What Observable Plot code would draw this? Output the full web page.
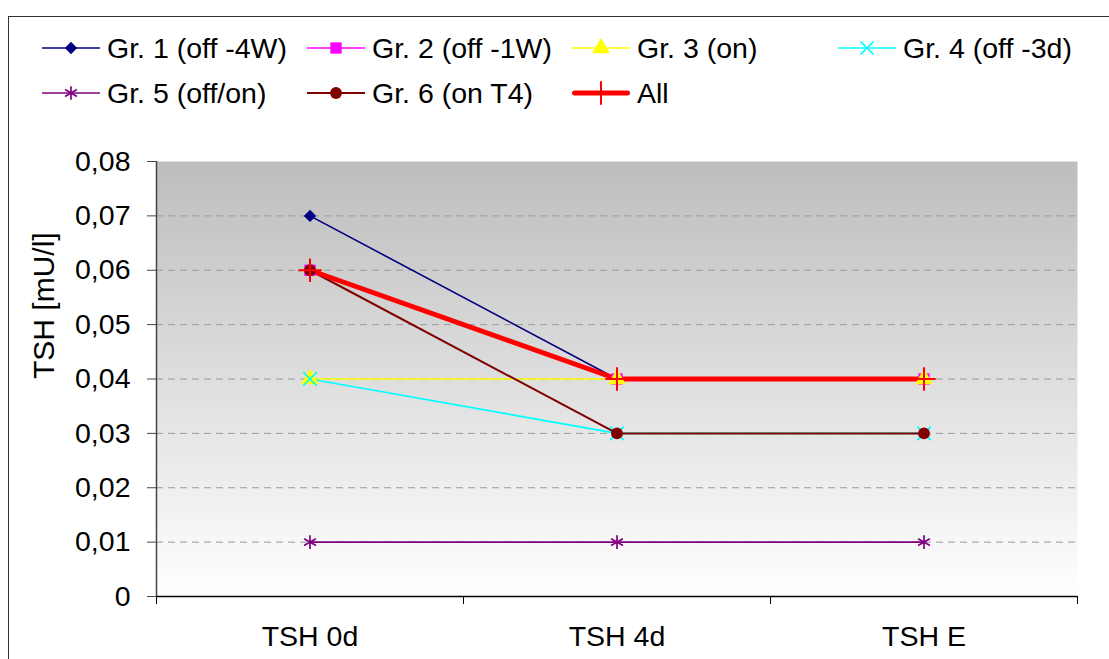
<!DOCTYPE html>
<html>
<head>
<meta charset="utf-8">
<script src="https://cdn.jsdelivr.net/npm/d3@7"></script>
<script src="https://cdn.jsdelivr.net/npm/@observablehq/plot@0.6"></script>
<style>
  html, body { margin: 0; padding: 0; background: #fff; }
  #wrap { position: relative; width: 1109px; height: 659px; overflow: hidden; font-family: "Liberation Sans", Arial, sans-serif; }
  #frame { position: absolute; left: 8px; top: 16px; width: 2000px; height: 2000px; border-left: 1.5px solid #333; border-top: 1.5px solid #333; }
  #legend { position: absolute; left: 0; top: 0; width: 1109px; height: 120px; }
  .item { position: absolute; display: flex; align-items: center; font-size: 28.5px; color: #000; white-space: nowrap; }
  .item svg { margin-right: 7px; }
  #chart { position: absolute; left: 0; top: 120px; }
</style>
</head>
<body>
<div id="wrap">
  <div id="frame"></div>
  <div id="legend"></div>
  <div id="chart"></div>
</div>
<script>
const categories = ["TSH 0d", "TSH 4d", "TSH E"];
const seriesNames = ["Gr. 1 (off -4W)", "Gr. 2 (off -1W)", "Gr. 3 (on)", "Gr. 4 (off -3d)", "Gr. 5 (off/on)", "Gr. 6 (on T4)", "All"];
const gr1 = [0.07, 0.04, 0.04];
const gr2 = [0.06, 0.04, 0.04];
const gr3 = [0.04, 0.04, 0.04];
const gr4 = [0.04, 0.03, 0.03];
const gr5 = [0.01, 0.01, 0.01];
const gr6 = [0.06, 0.03, 0.03];
const all = [0.06, 0.04, 0.04];
const yTicks = [0, 0.01, 0.02, 0.03, 0.04, 0.05, 0.06, 0.07, 0.08];

const seriesValues = [gr1, gr2, gr3, gr4, gr5, gr6, all];
const colors = ["#000080", "#FF00FF", "#FFFF00", "#00FFFF", "#800080", "#800000", "#FF0000"];
const symbols = ["diamond2", "square", "triangle", "times", "asterisk", "circle", "plus"];
const filled = [true, true, true, false, false, true, false];
const radii = [5.6, 6.4, 6.6, 6.2, 6.5, 5.9, 7.6];
const lineWidths = [1.6, 1.6, 1.6, 1.6, 1.6, 2, 5];

const rows = [];
seriesNames.forEach((s, k) => seriesValues[k].forEach((v, i) => rows.push({series: s, k, x: i, cat: categories[i], y: v})));

const fmt = d => d === 0 ? "0" : d.toFixed(2).replace(".", ",");

const lineMarks = [];
const dotMarks = [];
seriesNames.forEach((s, k) => {
  const data = rows.filter(r => r.k === k);
  lineMarks.push(Plot.line(data, {x: "x", y: "y", stroke: colors[k], strokeWidth: lineWidths[k], strokeLinejoin: "round", strokeLinecap: k === 6 ? "butt" : "round"}));
  if (filled[k]) {
    dotMarks.push(Plot.dot(data, {x: "x", y: "y", symbol: () => symbols[k], r: radii[k], fill: colors[k], stroke: "none"}));
  } else {
    dotMarks.push(Plot.dot(data, {x: "x", y: "y", symbol: () => symbols[k], r: radii[k], stroke: colors[k], strokeWidth: k === 6 ? 2 : 1.7, fill: "none"}));
  }
});

const chart = Plot.plot({
  width: 1109,
  height: 539,
  marginLeft: 156,
  marginRight: 32,
  marginTop: 41,
  marginBottom: 63,
  style: {fontFamily: "'Liberation Sans', Arial, sans-serif", fontSize: "28.5px", background: "transparent", color: "#000"},
  x: {type: "linear", domain: [-0.5, 2.5]},
  y: {type: "linear", domain: [0, 0.08]},
  symbol: {type: "identity"},
  marks: [
    Plot.frame({fill: "url(#bgGrad)", stroke: "none"}),
    Plot.ruleY(yTicks.filter(d => d > 0 && d < 0.08), {stroke: "#9a9a9a", strokeWidth: 1, strokeDasharray: "7,5"}),
    Plot.axisY({ticks: yTicks, tickFormat: fmt, tickSize: 9, tickPadding: 17, label: null, stroke: "#444"}),
    Plot.axisX({ticks: [-0.5, 0.5, 1.5, 2.5], tickFormat: () => "", tickSize: 8, label: null, stroke: "#000"}),
    Plot.axisX({ticks: [0, 1, 2], tickFormat: i => categories[i], tickSize: 0, tickPadding: 29, label: null}),
    Plot.ruleX([-0.5], {stroke: "#444", strokeWidth: 1.5}),
    Plot.ruleY([0], {stroke: "#000", strokeWidth: 1.5}),
    ...lineMarks,
    ...dotMarks,
    Plot.text(["TSH [mU/l]"], {frameAnchor: "left", dx: -112, rotate: -90, fontSize: 30, fill: "#000"})
  ]
});

const svg = d3.select(chart);
const defs = svg.insert("defs", ":first-child");
const grad = defs.append("linearGradient").attr("id", "bgGrad").attr("x1", 0).attr("y1", 0).attr("x2", 0).attr("y2", 1);
grad.append("stop").attr("offset", "0%").attr("stop-color", "#bdbdbd");
grad.append("stop").attr("offset", "100%").attr("stop-color", "#ffffff");
document.getElementById("chart").appendChild(chart);

// Legend
const legendPos = [
  [42, 48], [307, 48], [572, 48], [838, 48],
  [42, 93], [307, 93], [572, 93]
];
function symbolPath(k, size) {
  const map = {diamond2: d3.symbolDiamond2, square: d3.symbolSquare, triangle: d3.symbolTriangle, times: d3.symbolTimes, asterisk: d3.symbolAsterisk, circle: d3.symbolCircle, plus: d3.symbolPlus};
  return d3.symbol(map[symbols[k]], size)();
}
const legend = d3.select("#legend");
seriesNames.forEach((s, k) => {
  const [lx, ly] = legendPos[k];
  const item = legend.append("div").attr("class", "item").style("left", lx + "px").style("top", (ly - 18) + "px").style("height", "36px");
  const sw = item.append("svg").attr("width", 58).attr("height", 36);
  sw.append("line").attr("x1", k === 6 ? 2.5 : 0).attr("x2", k === 6 ? 55.5 : 58).attr("y1", 18).attr("y2", 18)
    .attr("stroke", colors[k]).attr("stroke-width", lineWidths[k]).attr("stroke-linecap", k === 6 ? "round" : "butt");
  const area = Math.PI * radii[k] * radii[k];
  const p = sw.append("path").attr("d", symbolPath(k, area)).attr("transform", "translate(29,18)");
  if (filled[k]) p.attr("fill", colors[k]); else p.attr("fill", "none").attr("stroke", colors[k]).attr("stroke-width", k === 6 ? 2 : 1.7);
  item.append("span").text(s);
});
</script>
</body>
</html>
